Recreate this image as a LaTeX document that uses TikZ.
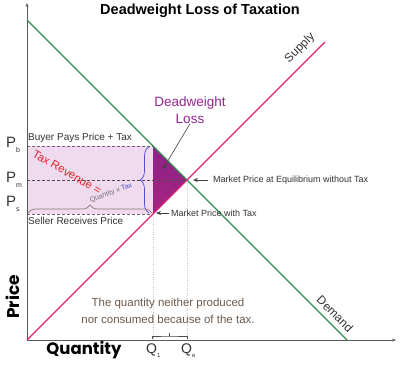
\documentclass[tikz,border=0pt]{standalone}
\usepackage{fontspec}
\setmainfont{Liberation Sans}
\newfontfamily\axisfont{Poppins}
\usetikzlibrary{decorations.pathreplacing,arrows.meta}
\definecolor{dem}{HTML}{2E8B4A}
\definecolor{sup}{HTML}{D6246E}
\definecolor{dwl}{HTML}{8B2289}
\definecolor{dwlb}{HTML}{A8237F}
\definecolor{dwltext}{HTML}{93278F}
\definecolor{rev}{HTML}{F0DAEE}
\definecolor{txt}{HTML}{333333}
\definecolor{redtxt}{HTML}{E8242C}
\definecolor{bluebr}{HTML}{5050D0}
\definecolor{brownt}{HTML}{6E5A4A}
\definecolor{guidec}{HTML}{7A5A7A}
\newcommand{\fs}[1]{\fontsize{#1}{#1}\selectfont}
\begin{document}
\begin{tikzpicture}[x=1pt,y=-1pt,
 lbl/.style={inner sep=0pt, text=txt},
 axisline/.style={draw=black!65, line width=0.8pt, -{Stealth[length=4pt,width=3pt]}},
 curve/.style={line width=1.4pt},
 guide/.style={dash pattern=on 3pt off 2pt, line width=0.6pt},
 drop/.style={dash pattern=on 1pt off 1.5pt, draw=black!22, line width=0.6pt},
 ptr/.style={-{Stealth[length=5pt,width=4pt]}, draw=black!75, line width=0.6pt},
 bracebr/.style={decorate, line width=0.7pt}]
\useasboundingbox (0,0) rectangle (400,367);
\fill[white] (0,0) rectangle (400,367);
% coordinates
\coordinate (O) at (27,340);
\coordinate (Ytop) at (27,3);
\coordinate (Xend) at (396,340);
\coordinate (Dtop) at (27,20);
\coordinate (Dbot) at (347,340);
\coordinate (Stop) at (325,42);
\coordinate (E) at (187,180);
\coordinate (B) at (153,146);
\coordinate (S) at (153,214);
\coordinate (PbL) at (27,146);
\coordinate (PmL) at (27,180);
\coordinate (PsL) at (27,214);
\coordinate (Q1b) at (153,340);
\coordinate (Qeb) at (187,340);
% revenue rectangle and DWL triangle
\fill[rev] (PbL) rectangle (S);
\shade[top color=dwl, bottom color=dwlb] (B) -- (E) -- (S) -- cycle;
% guides
\draw[guide, draw=guidec] (PbL) -- (B);
\draw[guide, draw=black!70] (PmL) -- (E);
\draw[guide, draw=guidec] (PsL) -- (S);
\draw[drop] (S) -- (Q1b);
\draw[drop] (E) -- (Qeb);
% axes
\draw[axisline] (O) -- (Ytop);
\draw[axisline] (O) -- (Xend);
% curves
\draw[curve, dem] (Dtop) -- (Dbot);
\draw[curve, sup] (O) -- (Stop);
% braces
\coordinate (bvb) at (149,213);
\coordinate (bvt) at (149,147);
\draw[bracebr, draw=bluebr, decoration={brace, amplitude=9pt}] (bvb) -- (bvt);
\coordinate (bhl) at (28,213);
\coordinate (bhr) at (152,213);
\draw[bracebr, draw=brownt!80, decoration={brace, amplitude=8pt}] (bhl) -- (bhr);
% title
\node[lbl, text=black, font=\bfseries\fs{14.5}] (title) at (200,11) {Deadweight Loss of Taxation};
% curve labels
\node[lbl, rotate=45, font=\fs{12}] (supplbl) at (300,48) {Supply};
\node[lbl, rotate=-45, font=\fs{12}] (demlbl) at (335,314) {Demand};
% DWL
\node[lbl, text=dwltext, align=center, font=\fontsize{13.5}{17}\selectfont] (dwltxt) at (190,110) {Deadweight\\Loss};
\coordinate (dwltip) at (163,169);
\draw[ptr] (dwltxt.south) -- (dwltip);
% price labels
\node[lbl, anchor=base west, font=\fs{15}] (Pb) at (6,147) {P\raisebox{-5pt}{\fs{7}b}};
\node[lbl, anchor=base west, font=\fs{15}] (Pm) at (6,182) {P\raisebox{-5pt}{\fs{7}m}};
\node[lbl, anchor=base west, font=\fs{15}] (Ps) at (6,206) {P\raisebox{-5pt}{\fs{7}s}};
\node[lbl, anchor=west, font=\fs{10}] (buyer) at (28,138) {Buyer Pays Price + Tax};
\node[lbl, anchor=west, font=\fs{10}] (seller) at (28,221) {Seller Receives Price};
% revenue labels
\node[lbl, text=redtxt, rotate=-30, font=\fs{11.5}] (taxrev) at (67,172) {Tax Revenue =};
\node[lbl, rotate=20, font=\fs{7}] (qxt) at (111,193) {\textcolor{black!55}{Quantity x} \textcolor{bluebr}{Tax}};
% market price labels
\node[lbl, anchor=west, font=\fs{9}] (mpe) at (213,180) {Market Price at Equilibrium without Tax};
\coordinate (mpetip) at (193,180);
\draw[ptr, shorten <=5pt] (mpe.west) -- (mpetip);
\node[lbl, anchor=west, font=\fs{9}] (mpt) at (171,213) {Market Price with Tax};
\coordinate (mpttip) at (156,213);
\draw[ptr, shorten <=2pt] (mpt.west) -- (mpttip);
% note
\node[lbl, text=brownt, align=center, font=\fontsize{11.5}{17}\selectfont] (note) at (168,311) {The quantity neither produced\\nor consumed because of the tax.};
% Q labels and bracket
\node[lbl, anchor=base west, font=\fs{14}] (Q1) at (146,353) {Q\raisebox{-4pt}{\fs{6}1}};
\node[lbl, anchor=base west, font=\fs{14}] (Qe) at (181,353) {Q\raisebox{-4pt}{\fs{6}e}};
\coordinate (brL) at (152,339);
\coordinate (brR) at (187,339);
\coordinate (brM) at (169.5,336);
\coordinate (brT) at (169.5,333);
\draw[black!70, line width=0.7pt] (brL) |- (brM) -| (brR);
\draw[black!70, line width=0.7pt] (brM) -- (brT);
% axis titles
\node[lbl, text=black, rotate=90, font=\axisfont\bfseries\fs{17}] (pricelbl) at (13,297) {Price};
\node[lbl, text=black, font=\axisfont\bfseries\fs{16.5}] (qlbl) at (84,350) {Quantity};
\end{tikzpicture}
\end{document}
